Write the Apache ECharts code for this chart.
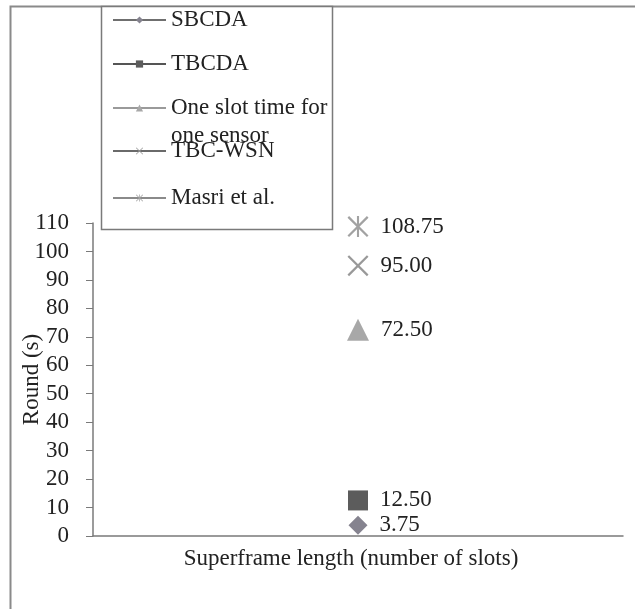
<!DOCTYPE html>
<html>
<head>
<meta charset="utf-8">
<script src="https://cdn.jsdelivr.net/npm/echarts@6/dist/echarts.min.js"></script>
<style>html,body{margin:0;padding:0;background:#fff}#c{width:635px;height:609px}</style>
</head>
<body>
<div id="c"></div>
<script>
const categories = ['Superframe'];
const seriesNames = ['SBCDA', 'TBCDA', 'One slot time for one sensor', 'TBC-WSN', 'Masri et al.'];
const sbcda = [3.75];
const tbcda = [12.5];
const oneSlot = [72.5];
const tbcWsn = [95.0];
const masri = [108.75];
const yTicks = [0, 110, 10];

const FONT = '"Liberation Serif", "DejaVu Serif", serif';
const FS = 23;
const xPath = 'path://M1.5,0L20,18.5L18.5,20L0,1.5Z M18.5,0L20,1.5L1.5,20L0,18.5Z';
const astPath = 'path://M1.5,0L20,18.5L18.5,20L0,1.5Z M18.5,0L20,1.5L1.5,20L0,18.5Z M9,0L11,0L11,20L9,20Z';

const styles = [
  {data: sbcda, symbol: 'diamond', size: 19, color: '#85838f', line: '#6f6f6f'},
  {data: tbcda, symbol: 'rect', size: 20, color: '#5c5c5c', line: '#555555'},
  {data: oneSlot, symbol: 'triangle', size: 22, color: '#a8a8a8', line: '#9a9a9a'},
  {data: tbcWsn, symbol: xPath, size: 21, color: '#999999', line: '#6a6a6a'},
  {data: masri, symbol: astPath, size: 21, color: '#a2a2a2', line: '#8a8a8a'}
];

const series = styles.map((s, i) => ({
  name: seriesNames[i],
  type: 'line',
  data: s.data,
  symbol: s.symbol,
  symbolSize: s.size,
  itemStyle: {color: s.color},
  lineStyle: {color: s.line, width: 1.5},
  label: {
    show: true, position: 'right', distance: 12,
    fontFamily: FONT, fontSize: FS, color: '#222',
    formatter: p => Number(p.value).toFixed(2)
  },
  animation: false
}));

const legendCenters = [20, 64, 108, 151, 198];
const legends = seriesNames.map((n, i) => {
  const twoLine = i === 2;
  return {
    data: [n],
    left: 112,
    top: twoLine ? legendCenters[i] - 42 : legendCenters[i] - 14,
    orient: 'vertical',
    padding: 0,
    itemWidth: 53,
    itemHeight: 9,
    selectedMode: false,
    formatter: twoLine ? ' \nOne slot time for\none sensor' : '{name}',
    textStyle: {fontFamily: FONT, fontSize: FS, color: '#222', lineHeight: 28}
  };
});

const chart = echarts.init(document.getElementById('c'));
chart.setOption({
  animation: false,
  backgroundColor: '#fff',
  grid: {left: 93, right: 12, top: 223, bottom: 73, containLabel: false, outerBoundsMode: 'none'},
  graphic: [
    {type: 'rect', shape: {x: 10.5, y: 6.5, width: 700, height: 700}, style: {fill: 'none', stroke: '#8a8a8a', lineWidth: 2}, z: -10},
    {type: 'rect', shape: {x: 101.5, y: 6.5, width: 231, height: 223}, style: {fill: '#fff', stroke: '#7a7a7a', lineWidth: 1.5}, z: -5}
  ],
  legend: legends,
  xAxis: {
    type: 'category', data: categories,
    axisLine: {lineStyle: {color: '#7a7a7a', width: 1.5}},
    axisTick: {show: false},
    axisLabel: {show: false},
    name: 'Superframe length (number of slots)',
    nameLocation: 'middle', nameGap: 11, nameMoveOverlap: false,
    nameTextStyle: {fontFamily: FONT, fontSize: FS, color: '#222', padding: [0, 14, 0, 0]}
  },
  yAxis: {
    type: 'value', min: yTicks[0], max: yTicks[1], interval: yTicks[2],
    splitLine: {show: false},
    axisLine: {show: true, lineStyle: {color: '#7a7a7a', width: 1.5}},
    axisTick: {show: true, length: 7, lineStyle: {color: '#7a7a7a'}},
    axisLabel: {fontFamily: FONT, fontSize: FS, color: '#222', margin: 24},
    name: 'Round (s)', nameLocation: 'middle', nameGap: 50, nameRotate: 90, nameMoveOverlap: false,
    nameTextStyle: {fontFamily: FONT, fontSize: FS, color: '#222'}
  },
  series: series
});
</script>
</body>
</html>
